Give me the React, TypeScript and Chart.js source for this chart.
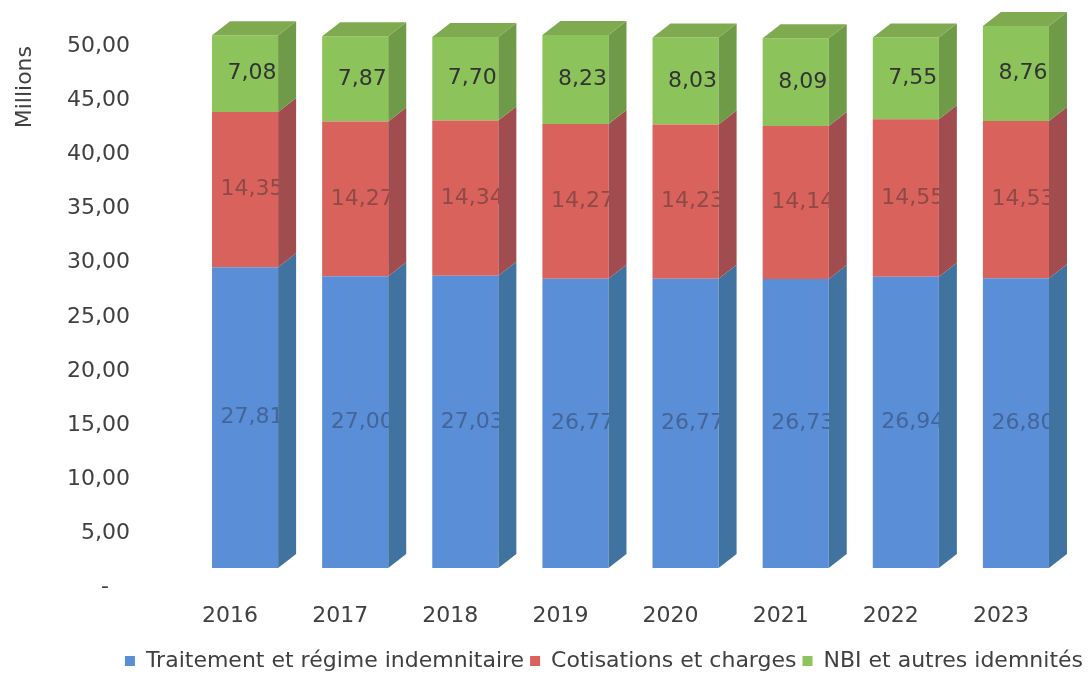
import React, { useEffect, useRef } from "react";
import { Chart, registerables } from "chart.js";

Chart.register(...registerables);

const years = ["2016", "2017", "2018", "2019", "2020", "2021", "2022", "2023"];
const traitement = [27.81, 27.0, 27.03, 26.77, 26.77, 26.73, 26.94, 26.8];
const cotisations = [14.35, 14.27, 14.34, 14.27, 14.23, 14.14, 14.55, 14.53];
const nbi = [7.08, 7.87, 7.7, 8.23, 8.03, 8.09, 7.55, 8.76];
const seriesNames = [
  "Traitement et régime indemnitaire",
  "Cotisations et charges",
  "NBI et autres idemnités",
];
const yTicks = [0, 5, 10, 15, 20, 25, 30, 35, 40, 45, 50];

const FONT = "'DejaVu Sans', Verdana, sans-serif";
const TEXT = "#404040";
const DEPTH_X = 18;
const DEPTH_Y = -14;
const SHIFT_X = 15;
const SHIFT_Y = -19;

const fronts = ["#5a8ed6", "#d9625c", "#8cc35b"];
const sides = ["#40739f", "#a14d4f", "#6f9a48"];
const tops = ["#4f83c2", "#c05a57", "#80aa50"];
const labelColors = ["#44659a", "#8f4947", "#333333"];

const fmt = (v: number) => v.toFixed(2).replace(".", ",");

const bar3d = {
  id: "bar3d",
  beforeDatasetsDraw(chart: any) {
    const ctx = chart.ctx;
    ctx.save();
    ctx.translate(SHIFT_X, SHIFT_Y);
  },
  afterDatasetsDraw(chart: any) {
    const ctx = chart.ctx;
    const n = chart.data.datasets.length;
    ctx.font = `22px ${FONT}`;
    ctx.textAlign = "center";
    ctx.textBaseline = "middle";
    for (let d = 0; d < n; d++) {
      const meta = chart.getDatasetMeta(d);
      meta.data.forEach((el: any, i: number) => {
        const p = el.getProps(["x", "y", "base", "width"], true);
        ctx.fillStyle = labelColors[d];
        ctx.fillText(fmt(chart.data.datasets[d].data[i]), p.x + 7, (p.y + p.base) / 2);
      });
    }
    for (let d = 0; d < n; d++) {
      const meta = chart.getDatasetMeta(d);
      meta.data.forEach((el: any) => {
        const p = el.getProps(["x", "y", "base", "width"], true);
        const r = p.x + p.width / 2;
        const l = p.x - p.width / 2;
        ctx.fillStyle = sides[d];
        ctx.beginPath();
        ctx.moveTo(r, p.y);
        ctx.lineTo(r + DEPTH_X, p.y + DEPTH_Y);
        ctx.lineTo(r + DEPTH_X, p.base + DEPTH_Y);
        ctx.lineTo(r, p.base);
        ctx.closePath();
        ctx.fill();
        if (d === n - 1) {
          ctx.fillStyle = tops[d];
          ctx.beginPath();
          ctx.moveTo(l, p.y);
          ctx.lineTo(l + DEPTH_X, p.y + DEPTH_Y);
          ctx.lineTo(r + DEPTH_X, p.y + DEPTH_Y);
          ctx.lineTo(r, p.y);
          ctx.closePath();
          ctx.fill();
        }
      });
    }
    ctx.restore();
  },
};

export default function App() {
  const ref = useRef<HTMLCanvasElement | null>(null);
  useEffect(() => {
    document.body.style.margin = "0";
    if (!ref.current) return;
    const data = [traitement, cotisations, nbi];
    const chart = new Chart(ref.current, {
      type: "bar",
      data: {
        labels: years,
        datasets: data.map((vals, i) => ({
          label: seriesNames[i],
          data: vals,
          backgroundColor: fronts[i],
          borderWidth: 0,
          barPercentage: 0.6,
          categoryPercentage: 1,
          clip: false as any,
        })),
      },
      options: {
        animation: false,
        responsive: false,
        layout: { padding: { top: 46, right: 0, left: 8, bottom: 0 } },
        plugins: {
          legend: {
            position: "bottom",
            align: "end",
            labels: {
              boxWidth: 10,
              boxHeight: 10,
              color: TEXT,
              font: { family: FONT, size: 22 },
              padding: 6,
            },
          },
          tooltip: { enabled: false },
        },
        scales: {
          x: {
            stacked: true,
            grid: { display: false, drawTicks: false },
            border: { display: false },
            ticks: { color: TEXT, font: { family: FONT, size: 22 }, padding: 15 },
          },
          y: {
            stacked: true,
            min: 0,
            max: 50,
            afterBuildTicks: (s: any) => {
              s.ticks = yTicks.map((v) => ({ value: v }));
            },
            grid: {
              display: true,
              color: "rgba(0,0,0,0)",
              drawOnChartArea: false,
              drawTicks: true,
              tickLength: 37,
            },
            border: { display: false },
            afterFit: (s: any) => {
              s.width = 167;
            },
            title: {
              display: true,
              text: "Millions",
              align: "end",
              color: TEXT,
              font: { family: FONT, size: 22 },
            },
            ticks: {
              color: TEXT,
              font: { family: FONT, size: 22 },
              padding: 8,
              callback: (v: any) => (Number(v) === 0 ? "-   " : fmt(Number(v))),
            },
          },
          y2: {
            position: "right",
            display: true,
            grid: { display: false, drawTicks: false },
            border: { display: false },
            ticks: { display: false, padding: 0 },
            afterFit: (s: any) => {
              s.width = 33;
            },
          },
        },
      },
      plugins: [bar3d],
    });
    return () => chart.destroy();
  }, []);
  return (
    <div style={{ width: 1089, height: 682, background: "#fff" }}>
      <canvas ref={ref} width={1089} height={682} />
    </div>
  );
}
